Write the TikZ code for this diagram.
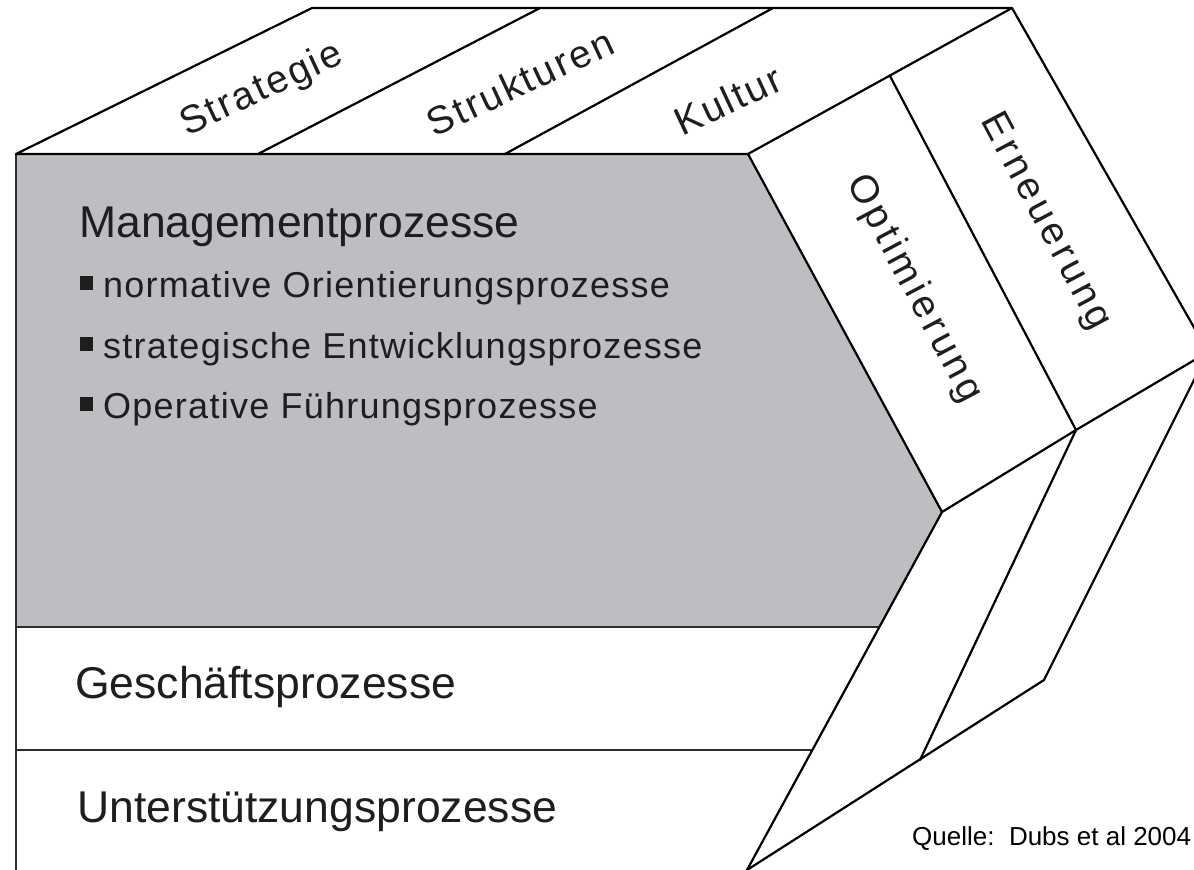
\documentclass[tikz,border=0pt]{standalone}
\usepackage{fontspec}
\setmainfont{Liberation Sans}
\newfontfamily\bulletfont[LetterSpace=3.5]{Liberation Sans}
\newfontfamily\topfont[LetterSpace=6]{Liberation Sans}
\newfontfamily\sidefont[LetterSpace=10]{Liberation Sans}
\definecolor{mgray}{RGB}{189,190,194}
\definecolor{lineg}{RGB}{45,45,45}
\definecolor{txt}{RGB}{30,30,30}
\begin{document}
\begin{tikzpicture}[x=1pt,y=-1pt,
  edge/.style={line width=2.2pt,black,line join=round,line cap=round},
  band/.style={line width=2.5pt,lineg},
  head/.style={anchor=base west,inner sep=0pt,font=\fontsize{44.5}{50}\selectfont,text=txt},
  bul/.style={anchor=base west,inner sep=0pt,font=\bulletfont\fontsize{36}{40}\selectfont,text=txt},
  toplabel/.style={inner sep=0pt,rotate=25,font=\topfont\fontsize{39}{42}\selectfont,text=txt},
  sidelabel/.style={inner sep=0pt,rotate=-62,font=\sidefont\fontsize{39}{42}\selectfont,text=txt},
  sq/.style={fill=txt,draw=none}]
\useasboundingbox (0,0) rectangle (1194,870);
\fill[white] (0,0) rectangle (1194,870);
\clip (0,0) rectangle (1194,870);
% coordinates
\coordinate (FTL) at (16,154);
\coordinate (FTR) at (748,154);
\coordinate (FBL) at (16,874);
\coordinate (TTL) at (312,8);
\coordinate (TTR) at (1012,8);
\coordinate (D1b) at (258,154);
\coordinate (D1t) at (540,8);
\coordinate (D2b) at (505,154);
\coordinate (D2t) at (773,8);
\coordinate (OE) at (890,76);
\coordinate (GC) at (942,512);
\coordinate (OEb) at (1076,430);
\coordinate (RC) at (1208,352);
\coordinate (LB) at (747,870);
\coordinate (MB) at (920,760);
\coordinate (RB) at (1044,680);
\coordinate (G1) at (16,627);
\coordinate (G1r) at (879,627);
\coordinate (G2) at (16,750);
\coordinate (G2r) at (812,750);
% grey management area
\fill[mgray] (FTL) -- (FTR) -- (GC) -- (G1r) -- (G1) -- cycle;
% front bands
\draw[band] (G1) -- (G1r);
\draw[band] (G2) -- (G2r);
\draw[band] (FTL) -- (FBL);
% outline and panels
\draw[edge] (FTL) -- (TTL) -- (TTR) -- (RC) -- (OEb) -- (GC) -- (FTR) -- cycle;
\draw[edge] (D1b) -- (D1t);
\draw[edge] (D2b) -- (D2t);
\draw[edge] (FTR) -- (TTR);
\draw[edge] (OE) -- (OEb);
\draw[edge] (GC) -- (LB) -- (RB) -- (RC);
\draw[edge] (OEb) -- (MB);
% texts
\node[head] (mgmt) at (79,237) {Managementprozesse};
\fill[sq] (80,276) rectangle (93,290);
\node[bul] (b1) at (103,297) {normative Orientierungsprozesse};
\fill[sq] (80,337) rectangle (93,351);
\node[bul] (b2) at (103,358) {strategische Entwicklungsprozesse};
\fill[sq] (80,397) rectangle (93,411);
\node[bul] (b3) at (103,418) {Operative Führungsprozesse};
\node[head] (gesch) at (75,698) {Geschäftsprozesse};
\node[head] (unter) at (77,822) {Unterstützungsprozesse};
\node[toplabel] (strat) at (262,90) {Strategie};
\node[toplabel] (struk) at (520,82) {Strukturen};
\node[toplabel] (kult) at (728,100) {Kultur};
\node[sidelabel] (opt) at (914,289) {Optimierung};
\node[sidelabel] (ern) at (1045,222) {Erneuerung};
\node[anchor=base west,inner sep=0pt,font=\fontsize{26}{30}\selectfont,text=black] (quelle) at (912,845) {Quelle:\ \ Dubs et al 2004};
\end{tikzpicture}
\end{document}
